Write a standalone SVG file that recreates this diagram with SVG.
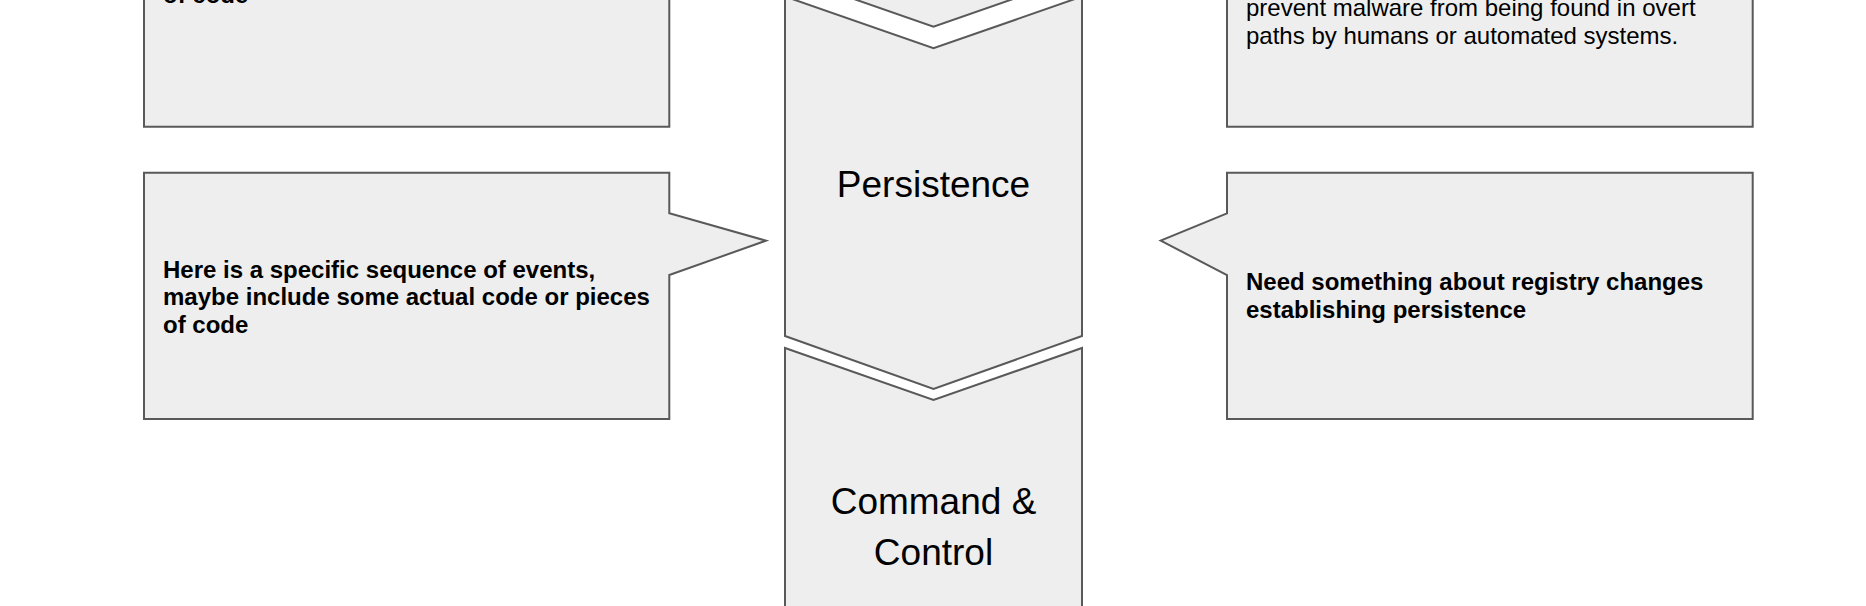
<svg xmlns="http://www.w3.org/2000/svg" width="1866" height="606" viewBox="0 0 1866 606">
<style>
.shape{fill:#eeeeee;stroke:#595959;stroke-width:2;stroke-linejoin:miter}
.note{font-family:"Liberation Sans",Arial,sans-serif;font-size:24px;fill:#000}
.bold{font-weight:bold}
.stage{font-family:"Liberation Sans",Arial,sans-serif;font-size:37px;fill:#000;text-anchor:middle}
</style>
<rect width="1866" height="606" fill="#ffffff"/>
<g id="note-top-left">
<polygon class="shape" points="144,-60 669.3,-60 669.3,126.7 144,126.7"/>
<text class="note bold" x="163" y="3">of code</text>
</g>
<g id="note-top-right">
<polygon class="shape" points="1227,-60 1752.7,-60 1752.7,126.7 1227,126.7"/>
<text class="note" x="1246" y="16">prevent malware from being found in overt</text>
<text class="note" x="1246" y="43.6">paths by humans or automated systems.</text>
</g>
<g id="stage-previous">
<polygon class="shape" points="785,-100 1082,-100 1082,-25 933.5,26.7 785,-25"/>
</g>
<g id="stage-persistence">
<polygon class="shape" points="785,-3.5 933.5,48.3 1082,-3.5 1082,336 933.5,389 785,336"/>
<text class="stage" x="933.5" y="197">Persistence</text>
</g>
<g id="stage-command-control">
<polygon class="shape" points="785,348 933.5,400 1082,348 1082,700 785,700"/>
<text class="stage" x="933.5" y="514">Command &amp;</text>
<text class="stage" x="933.5" y="565">Control</text>
</g>
<g id="note-persistence-left">
<polygon class="shape" points="144,172.7 669.3,172.7 669.3,213.3 766,240.7 669.3,275 669.3,419 144,419"/>
<text class="note bold" x="163" y="277.5">Here is a specific sequence of events,</text>
<text class="note bold" x="163" y="305">maybe include some actual code or pieces</text>
<text class="note bold" x="163" y="332.5">of code</text>
</g>
<g id="note-persistence-right">
<polygon class="shape" points="1227,172.7 1752.7,172.7 1752.7,419 1227,419 1227,275 1160.7,240.7 1227,213.3"/>
<text class="note bold" x="1246" y="290">Need something about registry changes</text>
<text class="note bold" x="1246" y="318">establishing persistence</text>
</g>
<g id="connectors"></g>
</svg>
